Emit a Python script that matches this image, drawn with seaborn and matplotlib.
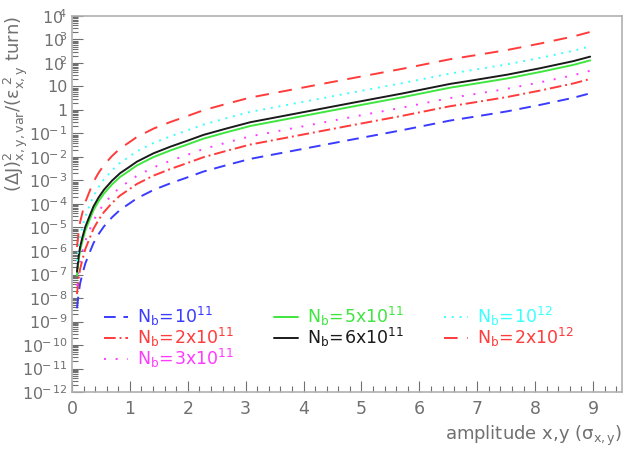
import numpy as np
import pandas as pd
import matplotlib
matplotlib.use("Agg")
import matplotlib.pyplot as plt
import seaborn as sns
from matplotlib.ticker import FixedLocator, FuncFormatter, LogLocator, NullFormatter, MultipleLocator

# ---------------- data (log10 of the y value) ----------------
amplitude = [0.086, 0.114, 0.14, 0.183, 0.23, 0.299, 0.37, 0.46, 0.55, 0.69,
             0.83, 0.98, 1.12, 1.41, 1.70, 1.99, 2.27, 2.68, 3.08, 4.0,
             4.81, 5.7, 6.53, 6.94, 7.51, 8.09, 8.66, 8.95]

log_nb_1e11 = [-8.44, -7.80, -7.38, -6.95, -6.53, -6.10, -5.67, -5.28, -4.96, -4.57,
               -4.25, -4.00, -3.76, -3.40, -3.12, -2.87, -2.62, -2.34, -2.08, -1.65,
               -1.27, -0.86, -0.45, -0.29, -0.06, 0.22, 0.52, 0.71]
log_nb_2e11 = [-7.83, -7.19, -6.77, -6.34, -5.92, -5.49, -5.06, -4.67, -4.35, -3.96,
               -3.64, -3.39, -3.15, -2.79, -2.51, -2.26, -2.01, -1.73, -1.47, -1.04,
               -0.66, -0.25, 0.16, 0.32, 0.55, 0.83, 1.13, 1.32]
log_nb_3e11 = [-7.48, -6.84, -6.42, -5.99, -5.57, -5.14, -4.71, -4.32, -4.00, -3.61,
               -3.29, -3.04, -2.80, -2.44, -2.16, -1.91, -1.66, -1.38, -1.12, -0.69,
               -0.31, 0.10, 0.51, 0.67, 0.90, 1.18, 1.48, 1.67]
log_nb_5e11 = [-7.04, -6.40, -5.98, -5.55, -5.13, -4.70, -4.27, -3.88, -3.56, -3.17,
               -2.85, -2.60, -2.36, -2.00, -1.72, -1.47, -1.22, -0.94, -0.68, -0.25,
               0.13, 0.54, 0.95, 1.11, 1.34, 1.62, 1.92, 2.11]
log_nb_6e11 = [-6.88, -6.24, -5.82, -5.39, -4.97, -4.54, -4.11, -3.72, -3.40, -3.01,
               -2.69, -2.44, -2.20, -1.84, -1.56, -1.31, -1.06, -0.78, -0.52, -0.09,
               0.29, 0.70, 1.11, 1.27, 1.50, 1.78, 2.08, 2.27]
log_nb_1e12 = [-6.44, -5.80, -5.38, -4.95, -4.53, -4.10, -3.67, -3.28, -2.96, -2.57,
               -2.25, -2.00, -1.76, -1.40, -1.12, -0.87, -0.62, -0.34, -0.08, 0.35,
               0.73, 1.14, 1.55, 1.71, 1.94, 2.22, 2.52, 2.71]
log_nb_2e12 = [-5.83, -5.19, -4.77, -4.34, -3.92, -3.49, -3.06, -2.67, -2.35, -1.96,
               -1.64, -1.39, -1.15, -0.79, -0.51, -0.26, -0.01, 0.27, 0.53, 0.96,
               1.34, 1.75, 2.16, 2.32, 2.55, 2.83, 3.13, 3.32]

labels = [r"$\mathregular{N_b\!=\!10^{11}}$",
          r"$\mathregular{N_b\!=\!2x10^{11}}$",
          r"$\mathregular{N_b\!=\!3x10^{11}}$",
          r"$\mathregular{N_b\!=\!5x10^{11}}$",
          r"$\mathregular{N_b\!=\!6x10^{11}}$",
          r"$\mathregular{N_b\!=\!10^{12}}$",
          r"$\mathregular{N_b\!=\!2x10^{12}}$"]
series = [log_nb_1e11, log_nb_2e11, log_nb_3e11, log_nb_5e11, log_nb_6e11,
          log_nb_1e12, log_nb_2e12]

y_tick_exponents = list(range(-12, 5))
x_ticks = list(range(0, 10))

# ---------------- styles ----------------
colors = ["#3b3bff", "#ff3b3b", "#ff3bff", "#3ee63e", "#1a1a1a", "#3bffff", "#ff3b3b"]
styles = [(0, (6, 4)), (0, (6, 2, 1, 2)), (0, (1, 5)), "-", "-", (0, (1, 3)), (0, (7, 5))]

sns.set_style("ticks")
plt.rcParams["font.family"] = ["DejaVu Sans"]
plt.rcParams["mathtext.default"] = "regular"

gray = "#707070"
fig = plt.figure(figsize=(6.41, 4.51), dpi=100)
ax = fig.add_axes([72 / 641, 1 - 392 / 451, 550 / 641, 376 / 451])

for vals, lab, col, ls in zip(series, labels, colors, styles):
    df = pd.DataFrame({"amplitude": amplitude, "value": np.power(10.0, vals)})
    sns.lineplot(data=df, x="amplitude", y="value", ax=ax, color=col,
                 linestyle=ls, linewidth=1.4, label=lab, estimator=None)

ax.set_yscale("log")
ax.set_xlim(0, 9.5)
ax.set_ylim(1e-12, 1e4)

def yfmt(v, pos):
    e = int(round(np.log10(v)))
    if e == 0:
        return "1"
    if e == 1:
        return "10"
    return r"$10^{\!\!%d}$" % e

ax.yaxis.set_major_locator(FixedLocator([10.0 ** e for e in y_tick_exponents]))
ax.yaxis.set_major_formatter(FuncFormatter(yfmt))
ax.yaxis.set_minor_locator(LogLocator(base=10, subs=np.arange(2, 10), numticks=100))
ax.yaxis.set_minor_formatter(NullFormatter())
ax.xaxis.set_major_locator(FixedLocator(x_ticks))
ax.xaxis.set_minor_locator(MultipleLocator(0.2))

ax.tick_params(axis="both", which="both", direction="in", colors=gray, labelcolor=gray,
               labelsize=12.5, top=False, right=False)
ax.tick_params(axis="y", labelsize=11.5, pad=3)
ax.tick_params(axis="both", which="major", length=8, width=0.8)
ax.tick_params(axis="both", which="minor", length=4, width=0.8)
ax.tick_params(axis="x", pad=6)
for sp in ax.spines.values():
    sp.set_color("#b0b0b0")
    sp.set_linewidth(1.2)

ax.set_xlabel(r"amplitude x,y ($\sigma_{x,y}$)", fontsize=13, color=gray)
ax.xaxis.set_label_coords(1.0, -0.085)
ax.xaxis.label.set_horizontalalignment("right")

ax.set_ylabel(r"$(\Delta J)^2_{x,y,var}/(\epsilon_{x,y}^{\ 2}\ turn)$", fontsize=13, color=gray)
ax.yaxis.set_label_coords(-0.076, 1.0)
ax.yaxis.label.set_horizontalalignment("right")

leg = ax.legend(ncol=3, frameon=False, labelcolor="linecolor", fontsize=12.5,
                loc="upper left", bbox_to_anchor=(0.045, 0.25),
                handlelength=1.4, handletextpad=0.5, columnspacing=2.3,
                labelspacing=-0.12, borderaxespad=0)

fig.savefig("out.png", dpi=100, facecolor="white")
